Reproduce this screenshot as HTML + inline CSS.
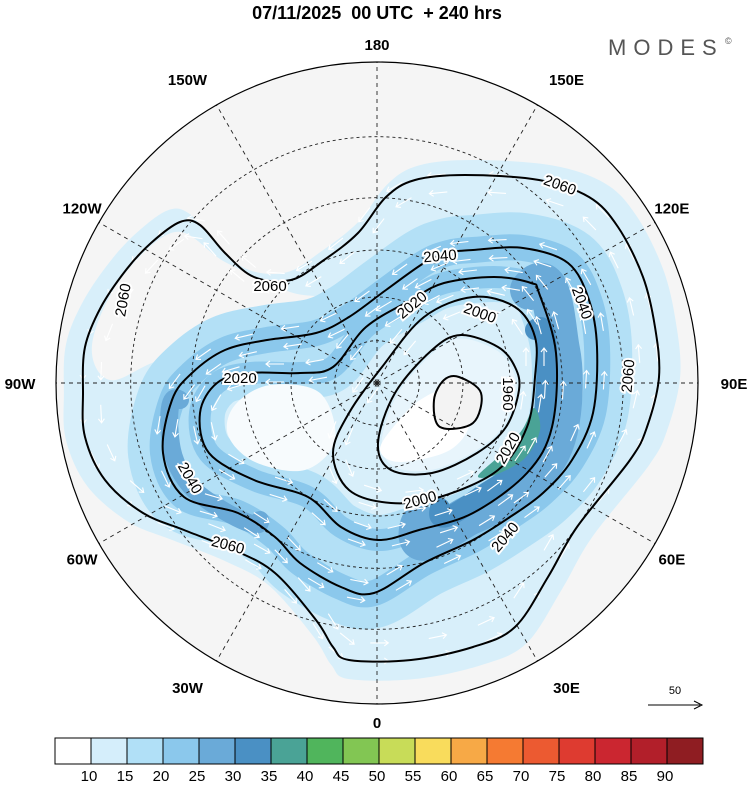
<!DOCTYPE html>
<html><head><meta charset="utf-8"><style>
html,body{margin:0;padding:0;background:#fff;}
body{width:750px;height:782px;overflow:hidden;font-family:"Liberation Sans",sans-serif;}
svg text{font-family:"Liberation Sans",sans-serif;}
</style></head><body>
<svg id="chart" width="750" height="782" viewBox="0 0 750 782" xmlns="http://www.w3.org/2000/svg">
<text x="377" y="19" text-anchor="middle" font-size="18" font-weight="bold" style="white-space:pre" xml:space="preserve">07/11/2025  00 UTC  + 240 hrs</text>
<text x="608" y="55" font-size="22" fill="#555" letter-spacing="7">MODES</text>
<text x="725" y="44" font-size="9" fill="#555">©</text>
<defs><clipPath id="disc"><circle cx="377" cy="383" r="321"/></clipPath></defs>
<g id="mapg" clip-path="url(#disc)"></g>
<circle cx="377" cy="383" r="321" fill="none" stroke="#000" stroke-width="1.2"/>
<g id="labels"></g>
<g>
<text x="675" y="694" font-size="11" text-anchor="middle">50</text>
<line x1="648" y1="705" x2="700" y2="705" stroke="#000" stroke-width="1"/>
<path d="M694,701 L702,705 L694,709" fill="none" stroke="#000"/>
</g>
<g id="cbar"></g>
</svg>
<script>
const NS="http://www.w3.org/2000/svg";
const cx=377, cy=383, R=321;
// colorbar data
const cbLevels=[10,15,20,25,30,35,40,45,50,55,60,65,70,75,80,85,90];
const cbColors=["#ffffff","#d5eefb","#b1e0f7","#8bc8ec","#6aaad8","#4a90c4","#4aa396","#50b55c","#82c653","#c8dc58","#f9dc5c","#f7a946","#f57a32","#ec5a31","#de3b30","#cb2630","#b21f2a","#8f1d22"];
// meridian labels
const lonVals=[180,150,120,90,60,30,0,-30,-60,-90,-120,-150];
const lonText=["180","150E","120E","90E","60E","30E","0","30W","60W","90W","120W","150W"];
// latitude rings (deg N)
const latRings=[75,60,45,30,15];
// geopotential contours: level + points (pixel positions on map)
const levels=[1960,1980,2000,2020,2040,2060];
const c1960=[[459,377],[481,393],[473,423],[440,427],[434,400],[444,380]];
const c1980=[[519,390],[506,427],[477,453],[432,473],[391,470],[378,443],[395,393],[432,350],[461,335],[498,347],[515,367]];
const c2000=[[535,377],[527,427],[498,470],[440,497],[391,503],[349,490],[333,453],[349,413],[382,367],[424,317],[473,297],[515,307],[535,337]];
const c2020=[[539,293],[556,353],[552,427],[527,473],[473,513],[419,530],[378,540],[341,527],[308,497],[254,480],[209,453],[200,413],[217,383],[250,373],[300,373],[333,367],[366,327],[411,300],[444,283],[494,277],[531,283]];
const c2040=[[473,250],[523,248],[568,263],[589,300],[597,347],[593,413],[572,460],[543,493],[510,517],[473,540],[424,563],[374,593],[341,587],[300,563],[275,537],[238,513],[184,497],[163,453],[172,400],[192,373],[225,350],[267,340],[316,333],[349,317],[386,290],[424,263],[448,253]];
const c2060=[[85,347],[101,307],[126,270],[151,243],[180,222],[200,225],[225,253],[254,277],[291,280],[324,260],[358,233],[386,197],[415,180],[465,175],[539,180],[589,197],[618,227],[643,277],[655,327],[659,377],[647,427],[630,460],[577,527],[548,577],[515,627],[473,647],[411,660],[349,660],[333,647],[316,620],[275,573],[234,550],[184,530],[143,513],[105,480],[85,437],[83,393]];
const contourSets=[c1960,c1980,c2000,c2020,c2040,c2060];
// contour labels: [level, x, y, rotation]
const clabels=[[2060,560,185,20],[2060,270,286,0],[2060,123,300,-80],[2060,628,376,-85],[2060,228,545,15],[2040,440,256,-5],[2040,582,303,70],[2040,190,478,60],[2040,505,537,-50],[2020,412,305,-40],[2020,240,378,0],[2020,508,448,-60],[2000,480,313,20],[2000,420,500,-15],[1960,508,394,90]];

function el(tag,attrs,parent){const e=document.createElementNS(NS,tag);for(const k in attrs)e.setAttribute(k,attrs[k]);parent.appendChild(e);return e;}
function smooth(P,closed){
  const n=P.length;let d="M"+P[0][0]+","+P[0][1];
  const last=closed?n:n-1;
  for(let i=0;i<last;i++){
    const p0=P[(i-1+n)%n],p1=P[i],p2=P[(i+1)%n],p3=P[(i+2)%n];
    const a=[p1[0]+(p2[0]-p0[0])/6,p1[1]+(p2[1]-p0[1])/6];
    const b=[p2[0]-(p3[0]-p1[0])/6,p2[1]-(p3[1]-p1[1])/6];
    d+=" C"+a[0].toFixed(1)+","+a[1].toFixed(1)+" "+b[0].toFixed(1)+","+b[1].toFixed(1)+" "+p2[0]+","+p2[1];
  }
  return d+(closed?"Z":"");
}
function scale(pts,f){const m=pts.reduce((s,p)=>[s[0]+p[0]/pts.length,s[1]+p[1]/pts.length],[0,0]);return pts.map(p=>[m[0]+(p[0]-m[0])*f,m[1]+(p[1]-m[1])*f]);}
const g=document.getElementById("mapg");
let bg=el("circle",{cx:cx,cy:cy,r:R,fill:"#f5f5f5"},g);


let s1=el("path",{d:smooth(scale(c2060,1.07),true),fill:"#d8effa"},g);


let hole=el("path",{d:smooth([[92,345],[120,280],[175,232],[225,262],[290,292],[330,300],[300,330],[230,345],[160,360],[110,380]],true),fill:"#f5f5f5"},g);


let s2=el("path",{d:smooth(c2040,true),fill:"none",stroke:"#b3e0f6","stroke-width":70,"stroke-linejoin":"round"},g);


let s3=el("path",{d:smooth(c2020,true),fill:"none",stroke:"#b3e0f6","stroke-width":50},g);


let s4=el("path",{d:smooth(c2040,true),fill:"none",stroke:"#8bc8ec","stroke-width":26},g);


let s5=el("path",{d:smooth(c2020,true),fill:"none",stroke:"#8bc8ec","stroke-width":22},g);


let jet=el("path",{d:smooth([[530,290],[560,350],[558,430],[530,478],[470,515],[420,525]],false),fill:"none",stroke:"#6aaad8","stroke-width":40,"stroke-linecap":"round"},g);


let jetw=el("path",{d:smooth([[180,400],[172,450],[200,495],[260,520]],false),fill:"none",stroke:"#6aaad8","stroke-width":18,"stroke-linecap":"round"},g);


let jet2=el("path",{d:smooth([[535,330],[545,400],[530,455],[490,490],[440,508]],false),fill:"none",stroke:"#4a90c4","stroke-width":20,"stroke-linecap":"round"},g);


let grn=el("path",{d:smooth([[534,408],[540,430],[525,458],[495,475],[478,476],[500,455],[522,430]],true),fill:"#4aa396"},g);


let inner=el("path",{d:smooth(scale(c1980,0.95),true),fill:"#e8f5fc"},g);


let inner2=el("path",{d:smooth([[420,400],[450,390],[470,420],[450,450],[400,462],[380,450],[395,425]],true),fill:"#ffffff"},g);


let lh=el("path",{d:smooth([[235,405],[270,385],[320,393],[335,440],[305,470],[255,462],[228,435]],true),fill:"#f7fbfd"},g);


let pc=el("path",{d:smooth(scale(c1960,0.96),true),fill:"#f3f3f3"},g);


latRings.forEach(lat=>{
  const r=R*Math.tan((90-lat)/2*Math.PI/180);
  const c=el("circle",{cx:cx,cy:cy,r:r.toFixed(1),fill:"none",stroke:"#222","stroke-width":0.9,"stroke-dasharray":"3,3"},g);
  
  
});
lonVals.forEach(lon=>{
  const a=lon*Math.PI/180;
  const l=el("line",{x1:cx,y1:cy,x2:(cx+R*Math.sin(a)).toFixed(1),y2:(cy+R*Math.cos(a)).toFixed(1),stroke:"#222","stroke-width":0.9,"stroke-dasharray":"4,4"},g);
  
  
});
[c2020,c2040,c2000,scale(c2060,0.97)].forEach(set=>{
  const n=set.length;
  for(let i=0;i<n;i++){
    const p=set[i],q=set[(i+n-1)%n];
    const mx=(p[0]+q[0])/2,my=(p[1]+q[1])/2;
    const dx=q[0]-p[0],dy=q[1]-p[1],L=Math.hypot(dx,dy)||1;
    const ux=dx/L,uy=dy/L;
    [[-9,0],[9,0]].forEach(o=>{
      const bx=mx-uy*o[0],by=my+ux*o[0];
      const x1=bx-ux*9,y1=by-uy*9,x2=bx+ux*9,y2=by+uy*9;
      const ar=el("path",{d:`M${x1.toFixed(1)},${y1.toFixed(1)}L${x2.toFixed(1)},${y2.toFixed(1)}M${(x2-ux*4-uy*3).toFixed(1)},${(y2-uy*4+ux*3).toFixed(1)}L${x2.toFixed(1)},${y2.toFixed(1)}L${(x2-ux*4+uy*3).toFixed(1)},${(y2-uy*4-ux*3).toFixed(1)}`,fill:"none",stroke:"#fff","stroke-width":1.1},g);
      
      
    });
  }
});
contourSets.forEach((set,i)=>{
  const p=el("path",{d:smooth(set,true),fill:"none",stroke:"#000","stroke-width":2},g);
  
  
});
clabels.forEach(c=>{
  const t=el("text",{x:c[1],y:c[2]+5,"text-anchor":"middle","font-size":15,transform:`rotate(${c[3]} ${c[1]} ${c[2]})`,stroke:"#fff","stroke-width":4,"paint-order":"stroke"},g);
  t.textContent=c[0];
  
  
});
const lg=document.getElementById("labels");
lonVals.forEach((lon,i)=>{
  const a=lon*Math.PI/180;
  const m=Math.abs(lon)%180;
  const rr=R+(m===0?18:(m===90?36:30));
  let x=cx+rr*Math.sin(a), y=cy+rr*Math.cos(a);
  if(m===30||m===150){x=cx+(x-cx)*1.08;}
  if(m===60||m===120){x=cx+(x-cx)*0.97;}
  const t=el("text",{x:x.toFixed(1),y:(y+6).toFixed(1),"text-anchor":"middle","font-size":15,"font-weight":"bold"},lg);
  t.textContent=lonText[i];
  
  
});
const cb=document.getElementById("cbar");
const x0=55,x1=703,bw=(x1-x0)/cbColors.length;
cbColors.forEach((c,i)=>{
  const r=el("rect",{x:(x0+i*bw).toFixed(2),y:738,width:bw.toFixed(2),height:26,fill:c,stroke:"#000","stroke-width":1},cb);
  
  
});
cbLevels.forEach((v,i)=>{
  const t=el("text",{x:(x0+(i+1)*bw-2).toFixed(2),y:781,"text-anchor":"middle","font-size":15},cb);
  t.textContent=v;
  
  
});
</script>
</body></html>
